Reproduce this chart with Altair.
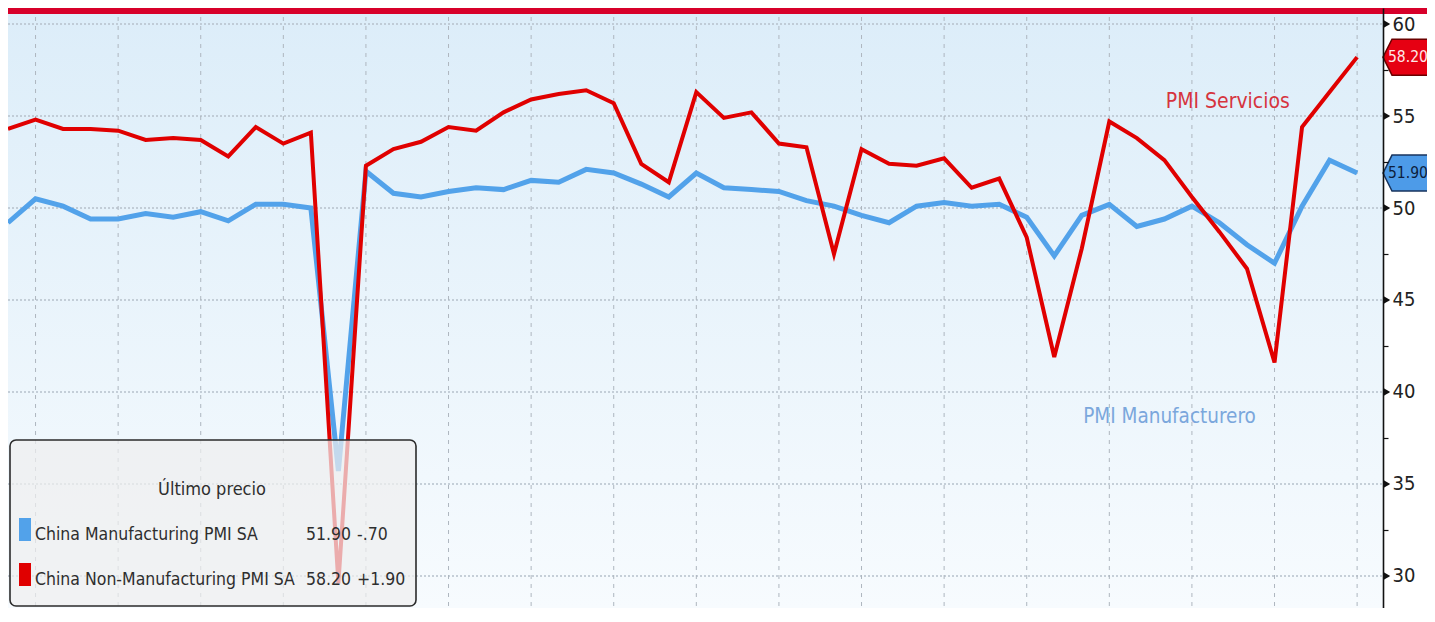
import altair as alt
import pandas as pd

# ---------------- data ----------------
MONTHS = [
    "2019-02", "2019-03", "2019-04", "2019-05", "2019-06", "2019-07", "2019-08",
    "2019-09", "2019-10", "2019-11", "2019-12",
    "2020-01", "2020-02", "2020-03", "2020-04", "2020-05", "2020-06", "2020-07",
    "2020-08", "2020-09", "2020-10", "2020-11", "2020-12",
    "2021-01", "2021-02", "2021-03", "2021-04", "2021-05", "2021-06", "2021-07",
    "2021-08", "2021-09", "2021-10", "2021-11", "2021-12",
    "2022-01", "2022-02", "2022-03", "2022-04", "2022-05", "2022-06", "2022-07",
    "2022-08", "2022-09", "2022-10", "2022-11", "2022-12",
    "2023-01", "2023-02", "2023-03",
]
MANUF = [
    49.2, 50.5, 50.1, 49.4, 49.4, 49.7, 49.5, 49.8, 49.3, 50.2, 50.2,
    50.0, 35.7, 52.0, 50.8, 50.6, 50.9, 51.1, 51.0, 51.5, 51.4, 52.1, 51.9,
    51.3, 50.6, 51.9, 51.1, 51.0, 50.9, 50.4, 50.1, 49.6, 49.2, 50.1, 50.3,
    50.1, 50.2, 49.5, 47.4, 49.6, 50.2, 49.0, 49.4, 50.1, 49.2, 48.0, 47.0,
    50.1, 52.6, 51.9,
]
NONMANUF = [
    54.3, 54.8, 54.3, 54.3, 54.2, 53.7, 53.8, 53.7, 52.8, 54.4, 53.5,
    54.1, 29.6, 52.3, 53.2, 53.6, 54.4, 54.2, 55.2, 55.9, 56.2, 56.4, 55.7,
    52.4, 51.4, 56.3, 54.9, 55.2, 53.5, 53.3, 47.5, 53.2, 52.4, 52.3, 52.7,
    51.1, 51.6, 48.4, 41.9, 47.8, 54.7, 53.8, 52.6, 50.6, 48.7, 46.7, 41.6,
    54.4, 56.3, 58.2,
]
SERIES = ["China Manufacturing PMI SA", "China Non-Manufacturing PMI SA"]
LEGEND_TITLE = "Último precio"
LABEL_SERV = "PMI Servicios"
LABEL_MANUF = "PMI Manufacturero"
Y_MAJOR = [30, 35, 40, 45, 50, 55, 60]
Y_TICKS = [30, 32.5, 35, 37.5, 40, 42.5, 45, 47.5, 50, 52.5, 55, 57.5, 60]
GRID_MONTHS = MONTHS[1::3]          # Mar / Jun / Sep / Dec

# ---------------- layout & style ----------------
W, H = 1375, 600
T_MAX = 49.94
Y_DOM = [28.26, 60.87]
FONT = "DejaVu Sans Condensed, DejaVu Sans, sans-serif"
RED = "#e00000"
BLUE = "#52a2ea"
TAG_PATH = "M -1 0 L -0.82 -0.36 L 1 -0.36 L 1 0.36 L -0.82 0.36 Z"

idx = {m: i for i, m in enumerate(MONTHS)}
lines_df = pd.DataFrame({
    "t": list(range(len(MONTHS))) * 2,
    "month": MONTHS * 2,
    "v": MANUF + NONMANUF,
    "series": [SERIES[0]] * len(MONTHS) + [SERIES[1]] * len(MONTHS),
})
one = pd.DataFrame({"a": [0]})

x_enc = alt.X("t:Q", scale=alt.Scale(domain=[0, T_MAX], nice=False, zero=False), axis=None)
y_axis = alt.Axis(
    orient="right", values=Y_TICKS, grid=False, title=None,
    labelExpr="datum.value % 5 === 0 ? datum.label : ''",
    labelFont=FONT, labelFontSize=20, labelColor="#222", labelPadding=4,
    domainColor="#111", domainWidth=1.6, tickColor="#111", tickSize=5, tickWidth=1.2,
    zindex=1,
)
y_enc = alt.Y("v:Q", scale=alt.Scale(domain=Y_DOM, nice=False, zero=False), axis=y_axis)

# background gradient
bg = alt.Chart(one).mark_rect(
    color=alt.Gradient(
        gradient="linear",
        stops=[alt.GradientStop(color="#dcedf9", offset=0),
               alt.GradientStop(color="#f7fbfe", offset=1)],
        x1=0, x2=0, y1=0, y2=1,
    )
).encode(x=alt.value(0), x2=alt.value(W), y=alt.value(0), y2=alt.value(H))

hgrid = alt.Chart(pd.DataFrame({"v": Y_MAJOR})).mark_rule(
    color="#b6c1cc", strokeWidth=1.6, strokeDash=[2, 2]
).encode(y=y_enc, x=alt.value(0), x2=alt.value(W))

vgrid = alt.Chart(pd.DataFrame({"t": [idx[m] for m in GRID_MONTHS]})).mark_rule(
    color="#aeb6bf", strokeWidth=1, strokeDash=[4, 5]
).encode(x=x_enc, y=alt.value(0), y2=alt.value(H))

blue_line = alt.Chart(lines_df).transform_filter(
    alt.datum.series == SERIES[0]
).mark_line(color=BLUE, strokeWidth=5).encode(x=x_enc, y=y_enc)

red_line = alt.Chart(lines_df).transform_filter(
    alt.datum.series == SERIES[1]
).mark_line(color=RED, strokeWidth=4).encode(x=x_enc, y=y_enc)

ann_serv = alt.Chart(pd.DataFrame({"t": [42.05], "v": [55.45], "txt": [LABEL_SERV]})).mark_text(
    align="left", baseline="alphabetic", font=FONT, fontSize=21, color="#d6343e"
).encode(x=x_enc, y=y_enc, text="txt:N")

ann_manuf = alt.Chart(pd.DataFrame({"t": [39.05], "v": [38.3], "txt": [LABEL_MANUF]})).mark_text(
    align="left", baseline="alphabetic", font=FONT, fontSize=20.5, color="#7ba7dc"
).encode(x=x_enc, y=y_enc, text="txt:N")


# ---------------- legend box ----------------
def fmt_chg(c):
    s = f"{c:+.2f}"
    if s[1:3] == "0.":
        s = s[0] + s[2:]
    return s


def txt(s, x, y, align="left", size=17.5):
    return alt.Chart(pd.DataFrame({"s": [s]})).mark_text(
        align=align, baseline="alphabetic", font=FONT, fontSize=size, color="#2e2e2e"
    ).encode(x=alt.value(x), y=alt.value(y), text="s:N")


legend_layers = [
    alt.Chart(one).mark_rect(
        fill="#eeeeee", fillOpacity=0.72, stroke="#2b2b2b", strokeWidth=1.6, cornerRadius=6
    ).encode(x=alt.value(2), x2=alt.value(408), y=alt.value(432), y2=alt.value(598)),
    txt(LEGEND_TITLE, 204, 487, "center", 18),
]
for k, (name, vals, col) in enumerate([(SERIES[0], MANUF, BLUE), (SERIES[1], NONMANUF, RED)]):
    base = 532 + 45 * k
    legend_layers.append(
        alt.Chart(one).mark_rect(color=col).encode(
            x=alt.value(11), x2=alt.value(23), y=alt.value(base - 22), y2=alt.value(base + 1)
        )
    )
    legend_layers.append(txt(name, 27, base))
    legend_layers.append(txt(f"{vals[-1]:.2f}", 343, base, "right"))
    legend_layers.append(txt(fmt_chg(vals[-1] - vals[-2]), 349, base))

# ---------------- right axis decorations ----------------
tri = alt.Chart(pd.DataFrame({"v": Y_MAJOR})).mark_point(
    shape="triangle-right", filled=True, color="#111", size=55, opacity=1
).encode(x=alt.value(W + 4), y=y_enc)

tag_layers = []
for name, vals, fill, stroke, tcol in [
    (SERIES[0], MANUF, "#4d9be8", "#18355e", "#0d1e3c"),
    (SERIES[1], NONMANUF, "#e60012", "#6b0000", "#fde8e8"),
]:
    d = pd.DataFrame({"v": [vals[-1]], "label": [f"{vals[-1]:.2f}"]})
    tag_layers.append(
        alt.Chart(d).mark_point(
            shape=TAG_PATH, size=10000, filled=True, fill=fill, stroke=stroke,
            strokeWidth=1.5, opacity=1, fillOpacity=1
        ).encode(x=alt.value(W + 50), y=y_enc)
    )
    tag_layers.append(
        alt.Chart(d).mark_text(
            align="left", baseline="middle", font=FONT, fontSize=15.5, color=tcol
        ).encode(x=alt.value(W + 5), y=y_enc, text="label:N")
    )

top_bar = alt.Chart(one).mark_rect(color="#d7002a").encode(
    x=alt.value(0), x2=alt.value(W + 60), y=alt.value(0), y2=alt.value(6)
)

chart = alt.layer(
    bg, hgrid, vgrid, blue_line, red_line, ann_serv, ann_manuf,
    *legend_layers, tri, *tag_layers, top_bar,
).properties(
    width=W, height=H,
    autosize=alt.AutoSizeParams(type="none"),
    padding={"left": 0, "top": 0, "right": 44, "bottom": 0},
).configure_view(stroke=None).configure(background="white")

chart.save("out.html", embed_options={"renderer": "svg", "actions": False})
